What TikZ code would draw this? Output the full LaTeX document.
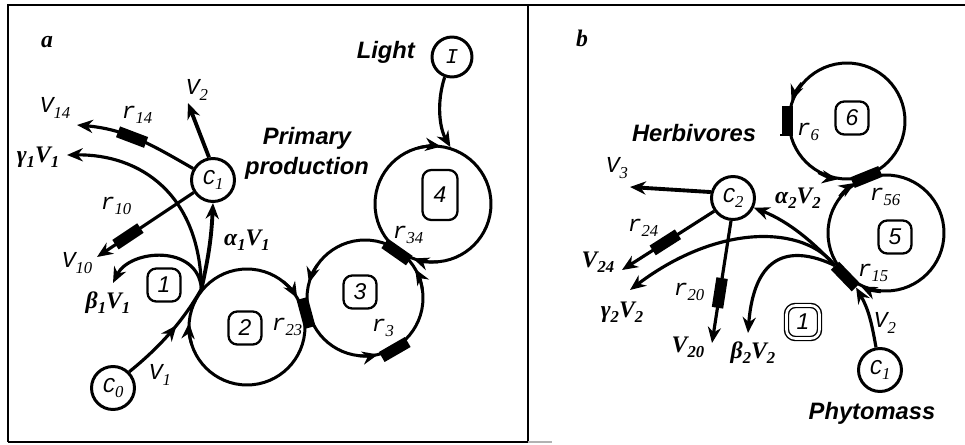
\documentclass[tikz,border=0pt]{standalone}
\usepackage{fontspec}
\setmainfont{Liberation Serif}
\newfontfamily\labsans{Liberation Sans}
\newfontfamily\labmono{Liberation Mono}
\usetikzlibrary{arrows.meta,decorations.markings}
\newcommand{\sub}[1]{\raisebox{-0.45ex}{\rmfamily\fontsize{9.5}{9.5}\selectfont #1}}

\begin{document}
\begin{tikzpicture}[x=0.02cm,y=0.02cm,
  pool/.style={circle,draw,line width=1.7pt,inner sep=0pt,minimum size=0.86cm,
    font=\labmono\itshape\fontsize{12}{14}\selectfont},
  loopring/.style={circle,draw,line width=1.7pt,inner sep=0pt,minimum size=2.32cm},
  compbox/.style={draw,rounded corners=5pt,line width=1.3pt,minimum width=0.66cm,
    minimum height=0.66cm,font=\labsans\itshape\fontsize{13}{15}\selectfont},
  res/.style={fill,inner sep=0pt,minimum width=0.6cm,minimum height=0.23cm},
  wire/.style={line width=1.8pt},
  flow/.style={line width=1.8pt,-{Stealth[length=9pt,width=7.5pt]}},
  looptip/.style={line width=1.7pt,-{Stealth[length=9pt,width=7.5pt]}},
  midarr/.style={postaction={decorate},decoration={markings,
    mark=at position #1 with {\arrow{Stealth[length=9pt,width=7.5pt]}}}},
  sanslab/.style={font=\labsans\bfseries\itshape\fontsize{13.5}{17}\selectfont},
  monolab/.style={font=\labmono\itshape\fontsize{13}{15}\selectfont},
  greeklab/.style={font=\bfseries\itshape\fontsize{13.5}{15}\selectfont}]
  \useasboundingbox (0,0) rectangle (965,444);

  % frame
  \draw[line width=1.5pt] (8,2) -- (8,439) -- (965,439);
  \draw[line width=1.5pt] (528,439) -- (528,2);
  \draw[line width=1pt] (8,2) -- (528,2);
  \draw[gray!60,line width=1pt] (528,2) -- (552,2);

  % ---- panel a ----
  \node[greeklab] (panA) at (47,402) {a};
  \node[pool,minimum size=0.8cm] (I) at (452,387) {I};
  \node[sanslab,anchor=east] (light) at (421,392) {Light};
  \node[sanslab,align=center] (prim) at (307,291) {Primary\\production};

  \node[loopring] (L4) at (433,240) {};
  \node[loopring] (L3) at (365,146) {};
  \node[loopring] (L2) at (247,117) {};
  \node[compbox,minimum width=0.7cm,minimum height=1cm] (b4) at (440,249) {4};
  \node[compbox] (b3) at (360,152) {3};
  \node[compbox] (b2) at (245,116) {2};
  \node[compbox] (b1) at (164,159) {1};
  \node[pool] (C0) at (113,56) {C\sub{0}};
  \node[pool] (C1) at (213,264) {C\sub{1}};

  \node[res,rotate=105] (r23) at (306,131) {};
  \node[res,rotate=-35] (r34) at (397,192) {};
  \node[res,rotate=30] (r3) at (L3.300) {};

  % arrowheads on the rings
  \draw[looptip] ([shift={(105:58)}]L4.center) arc[start angle=105,end angle=82,radius=58];
  \draw[looptip] ([shift={(275:58)}]L4.center) arc[start angle=275,end angle=250,radius=58];
  \draw[looptip] ([shift={(145:58)}]L3.center) arc[start angle=145,end angle=165,radius=58];
  \draw[looptip] ([shift={(263:58)}]L3.center) arc[start angle=263,end angle=283,radius=58];
  \draw[looptip] ([shift={(8:58)}]L3.center) arc[start angle=8,end angle=30,radius=58];
  \draw[looptip] ([shift={(52:58)}]L2.center) arc[start angle=52,end angle=30,radius=58];
  \draw[looptip] ([shift={(198:58)}]L2.center) arc[start angle=198,end angle=176,radius=58];

  \coordinate (m1) at (L2.140);
  \coordinate (b1tip) at (113,161);
  \coordinate (g1tip) at (67,289);
  \coordinate (v2tip) at (188,341);
  \coordinate (v14tip) at (77,319);
  \coordinate (v10tip) at (97,187);

  \draw[flow] (I.250) .. controls (436,340) and (440,315) .. (L4.73);
  \draw[wire,midarr=0.6] (C0.45) .. controls (170,105) and (190,135) .. (m1);
  \draw[flow,line width=2.2pt] (m1) to[bend right=5] (C1.south);
  \draw[flow] (m1) .. controls (198,200) and (130,195) .. (b1tip);
  \draw[flow] (m1) .. controls (200,250) and (140,290) .. (g1tip);
  \draw[flow,line width=2.2pt] (C1.100) -- (v2tip);
  \draw[flow] (C1.150) to[out=150,in=-5] node[res,sloped,pos=0.55] (r14) {} (v14tip);
  \draw[flow] (C1.213) -- node[res,sloped,pos=0.68] (r10) {} (v10tip);

  \node[monolab] (lV14) at (55,336) {V\sub{14}};
  \node[monolab] (lr14) at (137,329) {r\sub{14}};
  \node[greeklab] (lg1) at (38,287) {γ\sub{1}V\sub{1}};
  \node[monolab] (lV2a) at (197,354) {V\sub{2}};
  \node[monolab] (lr10) at (116,238) {r\sub{10}};
  \node[monolab] (lV10) at (77,181) {V\sub{10}};
  \node[greeklab] (lb1) at (108,141) {β\sub{1}V\sub{1}};
  \node[greeklab] (la1) at (247,204) {α\sub{1}V\sub{1}};
  \node[monolab] (lV1) at (160,69) {V\sub{1}};
  \node[monolab] (lr23) at (287,117) {r\sub{23}};
  \node[monolab] (lr3) at (383,116) {r\sub{3}};
  \node[monolab] (lr34) at (408,209) {r\sub{34}};

  % ---- panel b ----
  \node[greeklab] (panB) at (582,406) {b};
  \node[sanslab] (herb) at (694,311) {Herbivores};
  \node[sanslab] (phyto) at (872,31) {Phytomass};
  \node[loopring] (L6) at (847,323) {};
  \node[loopring] (L5) at (886,211) {};
  \node[compbox] (b6) at (852,326) {6};
  \node[compbox] (b5) at (895,207) {5};
  \node[compbox,double,double distance=1.5pt,line width=0.8pt] (b1b) at (803,122) {1};
  \node[pool] (C2) at (733,246) {C\sub{2}};
  \node[pool] (C1b) at (880,74) {C\sub{1}};

  \node[res,rotate=90] (r6) at (L6.180) {};
  \node[res,rotate=22] (r56) at (866.5,267) {};
  \node[res,rotate=-46] (r15) at (L5.227) {};
  \draw[line width=1pt] (780,309) -- (785,309);

  \draw[looptip] ([shift={(140:59)}]L6.center) arc[start angle=140,end angle=160,radius=59];
  \draw[looptip] ([shift={(241:59)}]L6.center) arc[start angle=241,end angle=261,radius=59];
  \draw[looptip] ([shift={(142:59)}]L5.center) arc[start angle=142,end angle=122,radius=59];
  \draw[looptip] ([shift={(265:59)}]L5.center) arc[start angle=265,end angle=245,radius=59];

  \coordinate (g2tip) at (630,154);
  \coordinate (b2tip) at (748,111);
  \coordinate (v3tip) at (630,257);
  \coordinate (v24tip) at (622,174);
  \coordinate (v20tip) at (712,101);

  \draw[flow] (C1b.100) to[out=100,in=-60] (r15.east);
  \draw[flow] (r15.west) .. controls (815,200) and (790,222) .. (C2.-25);
  \draw[flow] (r15.west) .. controls (805,218) and (720,222) .. (g2tip);
  \draw[flow] (r15.west) .. controls (800,195) and (755,200) .. (b2tip);
  \draw[flow,line width=2.2pt] (C2.165) -- (v3tip);
  \draw[flow] (C2.215) -- node[res,sloped,pos=0.53] (r24) {} (v24tip);
  \draw[flow] (C2.265) -- node[res,sloped,pos=0.59] (r20) {} (v20tip);

  \node[monolab] (lV3) at (617,276) {V\sub{3}};
  \node[monolab] (lr24) at (643,216) {r\sub{24}};
  \node[greeklab] (lV24) at (598,182) {V\sub{24}};
  \node[greeklab] (lg2) at (622,132) {γ\sub{2}V\sub{2}};
  \node[monolab] (lr20) at (689,152) {r\sub{20}};
  \node[greeklab] (lV20) at (688,97) {V\sub{20}};
  \node[greeklab] (lb2) at (753,91) {β\sub{2}V\sub{2}};
  \node[monolab] (lV2b) at (885,121) {V\sub{2}};
  \node[greeklab] (la2) at (798,246) {α\sub{2}V\sub{2}};
  \node[monolab] (lr15) at (873,171) {r\sub{15}};
  \node[monolab] (lr56) at (885,247) {r\sub{56}};
  \node[monolab] (lr6) at (808,312) {r\sub{6}};
\end{tikzpicture}
\end{document}
